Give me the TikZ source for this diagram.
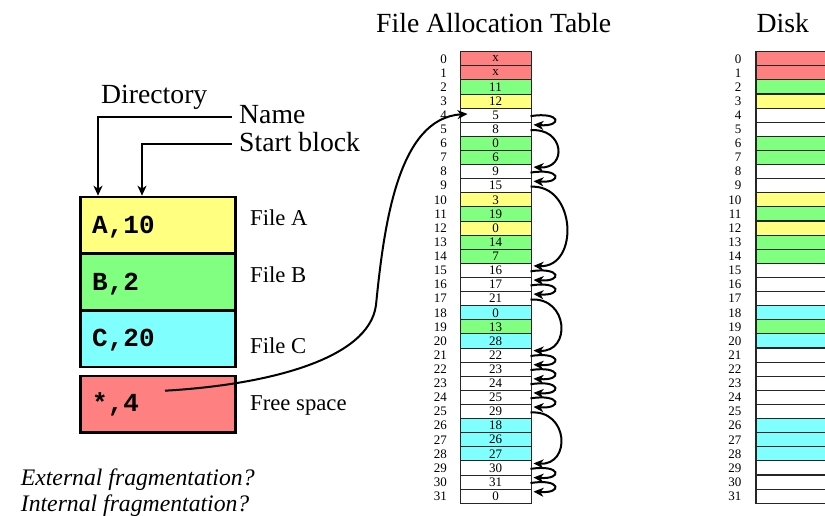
\documentclass[tikz,border=0pt]{standalone}
\usepackage{fontspec}
\setmainfont{Liberation Serif}
\setmonofont{Liberation Mono}
\usetikzlibrary{arrows.meta,calc}
\definecolor{colr}{HTML}{FF8080}
\definecolor{colg}{HTML}{80FF80}
\definecolor{coly}{HTML}{FFFF80}
\definecolor{colc}{HTML}{80FFFF}
\definecolor{colw}{HTML}{FFFFFF}
\begin{document}
\begin{tikzpicture}[x=1pt,y=-1pt,
  fatcell/.style={draw=black!85,line width=1pt,minimum width=71pt,minimum height=14.11pt,inner sep=0pt,font=\fontsize{13}{13}\selectfont},
  diskcell/.style={draw=black!85,line width=1.1pt,minimum width=88pt,minimum height=14.11pt,inner sep=0pt},
  idx/.style={inner sep=0pt,anchor=east,font=\fontsize{13}{13}\selectfont},
  dirbox/.style={draw=black,line width=2.6pt,minimum width=155pt,minimum height=56.7pt,inner sep=0pt},
  mono/.style={inner sep=0pt,anchor=base west,font=\fontsize{26}{26}\selectfont\ttfamily\bfseries},
  biglab/.style={inner sep=0pt,anchor=base west,font=\fontsize{27.7}{30}\selectfont},
  filelab/.style={inner sep=0pt,anchor=base west,font=\fontsize{22.7}{25}\selectfont},
  question/.style={inner sep=0pt,anchor=base west,font=\fontsize{23.7}{26}\selectfont\itshape},
  tip/.style={-{Stealth[length=10pt,width=9pt,inset=3pt]}},
  linkarrow/.style={tip,line width=2pt},
  dirarrow/.style={tip,line width=2.2pt}]
\clip (0,0) rectangle (825,516);
\fill[white] (0,0) rectangle (825,516);

% titles
\node[biglab] (fattitle) at (376,32.7) {File Allocation Table};
\node[biglab] (disktitle) at (756.5,32.7) {Disk};

% FAT and disk
\foreach \i/\c/\v in {0/r/x,1/r/x,2/g/11,3/y/12,4/w/5,5/w/8,6/g/0,7/g/6,8/w/9,9/w/15,10/y/3,11/g/19,12/y/0,13/g/14,14/g/7,15/w/16,16/w/17,17/w/21,18/c/0,19/g/13,20/c/28,21/w/22,22/w/23,23/w/24,24/w/25,25/w/29,26/c/18,27/c/26,28/c/27,29/w/30,30/w/31,31/w/0}{
  \pgfmathsetmacro\yc{58.76+14.11*\i}
  \node[fatcell,fill=col\c] (f\i) at (495.5,\yc) {\v};
  \node[idx] (fl\i) at (447,\yc) {\i};
  \node[diskcell,fill=col\c] (d\i) at (800,\yc) {};
  \node[idx] (dl\i) at (741.5,\yc) {\i};
}

% free list links
\foreach \a/\b in {4/5,5/8,8/9,9/15,15/16,16/17,17/21,21/22,22/23,23/24,24/25,25/29,29/30,30/31}{
  \pgfmathsetmacro\k{ifthenelse(\b-\a==1,30,22+4*(\b-\a))}
  \pgfmathsetmacro\u{ifthenelse(\b-\a==1,-5,-3)}
  \draw[linkarrow] ($(f\a.east)+(-1,1)$) .. controls +(\k,\u) and +(\k,2) .. ($(f\b.north east)+(2,3)$);
}

% directory
\node[biglab] (dirtitle) at (101,103.3) {Directory};
\node[biglab] (name) at (239,123.3) {Name};
\node[biglab] (start) at (239,151.7) {Start block};

\node[dirbox,fill=coly] (dA) at (158.2,225.35) {};
\node[dirbox,fill=colg] (dB) at (158.2,282) {};
\node[dirbox,fill=colc] (dC) at (158.2,338.7) {};
\node[dirbox,fill=colr] (dF) at (158.2,404.35) {};

\node[mono] (tA) at (92,233.3) {A,10};
\node[mono] (tB) at (92,290.7) {B,2};
\node[mono] (tC) at (92,346.7) {C,20};
\node[mono] (tF) at (92,411.7) {*,4};

\node[filelab] (lA) at (250,225.7) {File A};
\node[filelab] (lB) at (250,282.3) {File B};
\node[filelab] (lC) at (250,353.3) {File C};
\node[filelab] (lF) at (250,410) {Free space};

\coordinate (nameL) at (232,116.7);
\coordinate (startL) at (232,144);
\draw[dirarrow] (nameL) -| ($(dA.north west)+(18.6,0)$);
\draw[dirarrow] (startL) -| ($(dA.north west)+(62.6,0)$);

% free space pointer
\coordinate (fs) at (165,390.7);
\coordinate (fsmid) at (376,305);
\draw[linkarrow] (fs) .. controls (265,385) and (369,360) .. (fsmid)
  .. controls (384,225) and (398,118) .. ($(f4.west)+(8,-1.2)$);

% questions
\node[question] (q1) at (20.7,485) {External fragmentation?};
\node[question] (q2) at (20.7,511.5) {Internal fragmentation?};
\end{tikzpicture}
\end{document}
